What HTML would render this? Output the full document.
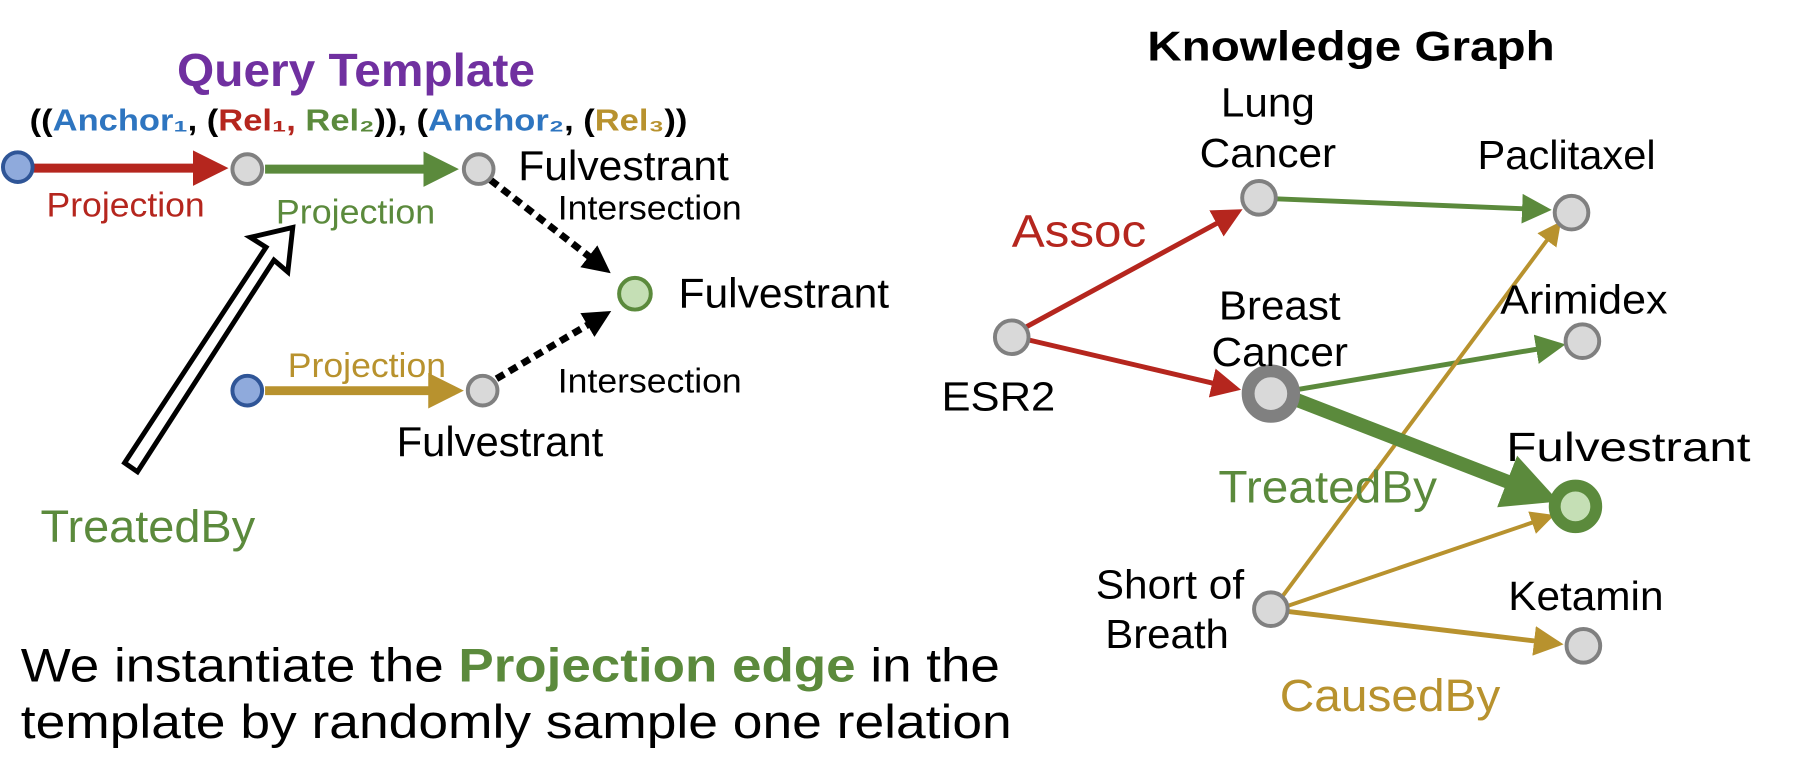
<!DOCTYPE html>
<html><head><meta charset="utf-8"><style>
html,body{margin:0;padding:0;background:#fff;}
svg{display:block;}
text{font-family:"Liberation Sans",Arial,sans-serif;}
</style></head><body>
<svg width="1802" height="764" viewBox="0 0 1802 764" xmlns="http://www.w3.org/2000/svg">
<defs>
<marker id="ar" markerWidth="4" markerHeight="4" refX="3" refY="2" orient="auto" markerUnits="strokeWidth"><path d="M0,0 L4,2 L0,4 z" fill="#b5261e"/></marker>
<marker id="ag" markerWidth="4" markerHeight="4" refX="3" refY="2" orient="auto" markerUnits="strokeWidth"><path d="M0,0 L4,2 L0,4 z" fill="#5b8a3c"/></marker>
<marker id="ao" markerWidth="4" markerHeight="4" refX="3" refY="2" orient="auto" markerUnits="strokeWidth"><path d="M0,0 L4,2 L0,4 z" fill="#b8922e"/></marker>
<marker id="ab" markerWidth="4" markerHeight="4" refX="3" refY="2" orient="auto" markerUnits="strokeWidth"><path d="M0,0 L4,2 L0,4 z" fill="#000"/></marker>
<marker id="sr" markerWidth="6" markerHeight="6" refX="5" refY="3" orient="auto" markerUnits="strokeWidth"><path d="M0,0 L6,3 L0,6 z" fill="#b5261e"/></marker>
<marker id="sg" markerWidth="6" markerHeight="6" refX="5" refY="3" orient="auto" markerUnits="strokeWidth"><path d="M0,0 L6,3 L0,6 z" fill="#5b8a3c"/></marker>
<marker id="so" markerWidth="6" markerHeight="6" refX="5" refY="3" orient="auto" markerUnits="strokeWidth"><path d="M0,0 L6,3 L0,6 z" fill="#b8922e"/></marker>
<marker id="tg" markerWidth="4" markerHeight="4" refX="3" refY="2" orient="auto" markerUnits="strokeWidth"><path d="M0,0 L4,2 L0,4 z" fill="#5b8a3c"/></marker>
</defs>
<g transform="scale(0.989)">
<!-- LEFT: query template -->
<text x="360" y="87" font-size="47" font-weight="bold" fill="#7030a0" text-anchor="middle" textLength="362" lengthAdjust="spacingAndGlyphs">Query Template</text>
<text x="30" y="132" font-size="31" font-weight="bold" textLength="665" lengthAdjust="spacingAndGlyphs">((<tspan fill="#2e75c0">Anchor₁</tspan>, (<tspan fill="#b5261e">Rel₁,</tspan> <tspan fill="#5b8a3c">Rel₂</tspan>)), (<tspan fill="#2e75c0">Anchor₂</tspan>, (<tspan fill="#b8922e">Rel₃</tspan>))</text>

<line x1="34" y1="170" x2="222" y2="170" stroke="#b5261e" stroke-width="9" marker-end="url(#ar)"/>
<line x1="268" y1="171" x2="455" y2="171" stroke="#5b8a3c" stroke-width="9" marker-end="url(#ag)"/>
<line x1="268" y1="395" x2="460" y2="395" stroke="#b8922e" stroke-width="9" marker-end="url(#ao)"/>
<line x1="496" y1="182" x2="612" y2="272" stroke="#000" stroke-width="7" stroke-dasharray="9,6" marker-end="url(#ab)"/>
<line x1="502" y1="383" x2="612" y2="318" stroke="#000" stroke-width="7" stroke-dasharray="9,6" marker-end="url(#ab)"/>

<circle cx="18" cy="169" r="15" fill="#8faadc" stroke="#2f5597" stroke-width="4"/>
<circle cx="250" cy="171" r="15" fill="#d9d9d9" stroke="#808080" stroke-width="4"/>
<circle cx="484" cy="171" r="15" fill="#d9d9d9" stroke="#808080" stroke-width="4"/>
<circle cx="642" cy="297" r="16" fill="#c5dfb5" stroke="#5b8a3c" stroke-width="4"/>
<circle cx="250" cy="395" r="15" fill="#8faadc" stroke="#2f5597" stroke-width="4"/>
<circle cx="488" cy="395" r="15" fill="#d9d9d9" stroke="#808080" stroke-width="4"/>

<polygon points="126,468 269,250 253,240 296,230 291,275 277,263 139,477" fill="#fff" stroke="#000" stroke-width="5" stroke-linejoin="miter"/>

<g font-size="35">
<text x="47" y="219" fill="#b5261e" textLength="160" lengthAdjust="spacingAndGlyphs">Projection</text>
<text x="279" y="226" fill="#5b8a3c" textLength="161" lengthAdjust="spacingAndGlyphs">Projection</text>
<text x="291" y="381" fill="#b8922e" textLength="160" lengthAdjust="spacingAndGlyphs">Projection</text>
<text x="564" y="222" textLength="186" lengthAdjust="spacingAndGlyphs">Intersection</text>
<text x="564" y="397" textLength="186" lengthAdjust="spacingAndGlyphs">Intersection</text>
</g>
<g font-size="42">
<text x="524" y="182" textLength="213" lengthAdjust="spacingAndGlyphs">Fulvestrant</text>
<text x="686" y="311" textLength="213" lengthAdjust="spacingAndGlyphs">Fulvestrant</text>
<text x="401" y="461" textLength="209" lengthAdjust="spacingAndGlyphs">Fulvestrant</text>
<text x="41" y="548" fill="#5b8a3c" font-size="46" textLength="217" lengthAdjust="spacingAndGlyphs">TreatedBy</text>
</g>

<g font-size="48">
<text x="21" y="689" textLength="990" lengthAdjust="spacingAndGlyphs">We instantiate the <tspan fill="#5b8a3c" font-weight="bold">Projection edge</tspan> in the</text>
<text x="21" y="746" textLength="1002" lengthAdjust="spacingAndGlyphs">template by randomly sample one relation</text>
</g>

<!-- RIGHT: knowledge graph -->
<text x="1160" y="61" font-size="42" font-weight="bold" textLength="412" lengthAdjust="spacingAndGlyphs">Knowledge Graph</text>

<line x1="1035" y1="332" x2="1252" y2="214" stroke="#b5261e" stroke-width="5" marker-end="url(#sr)"/>
<line x1="1037" y1="343" x2="1250" y2="393" stroke="#b5261e" stroke-width="5" marker-end="url(#sr)"/>
<line x1="1290" y1="201" x2="1564" y2="212" stroke="#5b8a3c" stroke-width="5" marker-end="url(#sg)"/>
<line x1="1305" y1="395" x2="1578" y2="349" stroke="#5b8a3c" stroke-width="5" marker-end="url(#sg)"/>
<line x1="1296" y1="604" x2="1576" y2="227" stroke="#b8922e" stroke-width="4" marker-end="url(#so)"/>
<line x1="1298" y1="614" x2="1568" y2="522" stroke="#b8922e" stroke-width="4" marker-end="url(#so)"/>
<line x1="1300" y1="618" x2="1576" y2="651" stroke="#b8922e" stroke-width="5" marker-end="url(#so)"/>
<line x1="1305" y1="402" x2="1563" y2="502" stroke="#5b8a3c" stroke-width="14" marker-end="url(#tg)"/>

<circle cx="1273" cy="200" r="17" fill="#d9d9d9" stroke="#808080" stroke-width="4"/>
<circle cx="1589" cy="215" r="17" fill="#d9d9d9" stroke="#808080" stroke-width="4"/>
<circle cx="1023" cy="341" r="17" fill="#d9d9d9" stroke="#808080" stroke-width="4"/>
<circle cx="1285" cy="398" r="23" fill="#d9d9d9" stroke="#808080" stroke-width="13"/>
<circle cx="1600" cy="345" r="17" fill="#d9d9d9" stroke="#808080" stroke-width="4"/>
<circle cx="1593" cy="512" r="21" fill="#c5dfb5" stroke="#5b8a3c" stroke-width="12"/>
<circle cx="1285" cy="616" r="17" fill="#d9d9d9" stroke="#808080" stroke-width="4"/>
<circle cx="1601" cy="653" r="17" fill="#d9d9d9" stroke="#808080" stroke-width="4"/>

<g font-size="41">
<text x="1282" y="118" text-anchor="middle" textLength="95" lengthAdjust="spacingAndGlyphs">Lung</text>
<text x="1282" y="169" text-anchor="middle" textLength="138" lengthAdjust="spacingAndGlyphs">Cancer</text>
<text x="1494" y="171" textLength="180" lengthAdjust="spacingAndGlyphs">Paclitaxel</text>
<text x="952" y="415" textLength="115" lengthAdjust="spacingAndGlyphs">ESR2</text>
<text x="1294" y="323" text-anchor="middle" textLength="123" lengthAdjust="spacingAndGlyphs">Breast</text>
<text x="1294" y="370" text-anchor="middle" textLength="138" lengthAdjust="spacingAndGlyphs">Cancer</text>
<text x="1517" y="317" textLength="169" lengthAdjust="spacingAndGlyphs">Arimidex</text>
<text x="1523" y="466" textLength="247" lengthAdjust="spacingAndGlyphs">Fulvestrant</text>
<text x="1258" y="605" text-anchor="end" textLength="150" lengthAdjust="spacingAndGlyphs">Short of</text>
<text x="1180" y="655" text-anchor="middle" textLength="125" lengthAdjust="spacingAndGlyphs">Breath</text>
<text x="1525" y="617" textLength="157" lengthAdjust="spacingAndGlyphs">Ketamin</text>
</g>
<g font-size="46">
<text x="1023" y="249" fill="#b5261e" textLength="136" lengthAdjust="spacingAndGlyphs">Assoc</text>
<text x="1232" y="508" fill="#5b8a3c" textLength="221" lengthAdjust="spacingAndGlyphs">TreatedBy</text>
<text x="1294" y="719" fill="#b8922e" textLength="223" lengthAdjust="spacingAndGlyphs">CausedBy</text>
</g>
</g>
</svg>
</body></html>
